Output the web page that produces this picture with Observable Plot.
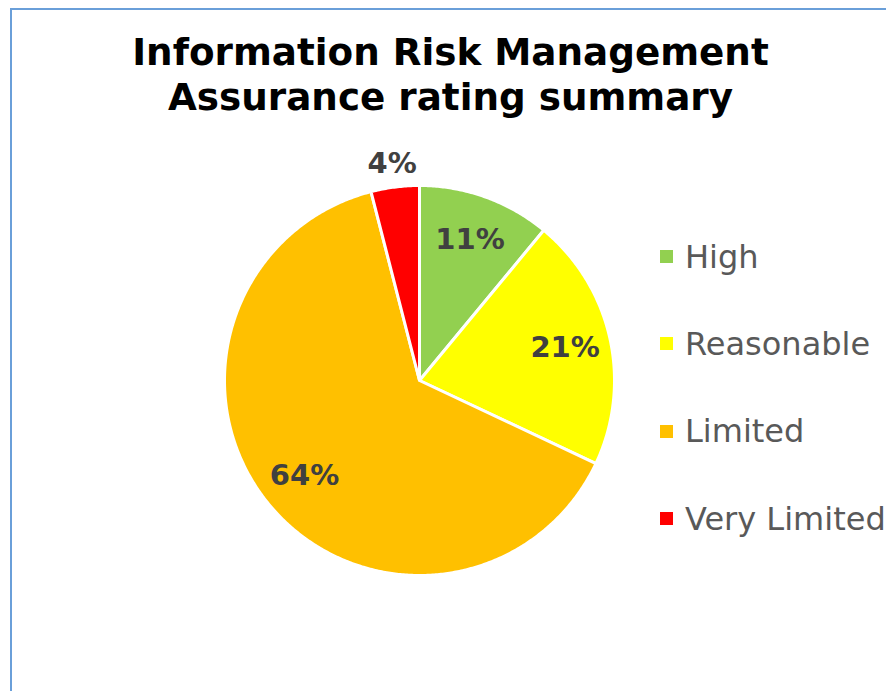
<!DOCTYPE html>
<html>
<head>
<meta charset="utf-8">
<script src="https://cdn.jsdelivr.net/npm/d3@7"></script>
<script src="https://cdn.jsdelivr.net/npm/@observablehq/plot@0.6"></script>
<style>
  html, body { margin: 0; padding: 0; background: #ffffff; overflow: hidden; }
  body { width: 886px; height: 691px; position: relative; font-family: "DejaVu Sans", Verdana, sans-serif; }
  #chart { position: absolute; left: 0; top: 0; }
  #title {
    position: absolute; left: 0; top: 30px; width: 901px; text-align: center;
    font-family: "DejaVu Sans", Verdana, sans-serif; font-weight: bold;
    font-size: 37.3px; line-height: 45px; color: #000000;
  }
  #legend { position: absolute; left: 660px; top: 213px; }
  .item { display: flex; align-items: center; height: 87.3px; white-space: nowrap; }
  .sw { width: 13px; height: 13px; margin-right: 12px; flex: none; }
  .lab { font-family: "DejaVu Sans", Verdana, sans-serif; font-size: 32px; line-height: 32px; color: #595959; }
  #frame {
    position: absolute; left: 10px; top: 8px; width: 2000px; height: 2000px;
    border-left: 2px solid #6A9FD9; border-top: 2px solid #6A9FD9; pointer-events: none;
  }
</style>
</head>
<body>
<div id="chart"></div>
<div id="title">Information Risk Management<br>Assurance rating summary</div>
<div id="legend"></div>
<div id="frame"></div>
<script>
// ---- data ----
const categories = ["High", "Reasonable", "Limited", "Very Limited"];
const values = [11, 21, 64, 4];
const colors = ["#92D050", "#FFFF00", "#FFC000", "#FF0000"];

// ---- build pie geometry from the data ----
const rows = categories.map((c, i) => ({category: c, value: values[i]}));
const arcs = d3.pie().sort(null).value(d => d.value)(rows);

const slicePoints = [];
for (const a of arcs) {
  const cat = a.data.category;
  slicePoints.push({category: cat, x: 0, y: 0});
  const n = Math.max(2, Math.ceil((a.endAngle - a.startAngle) / (Math.PI / 360)));
  for (let k = 0; k <= n; k++) {
    const t = a.startAngle + (a.endAngle - a.startAngle) * k / n;
    slicePoints.push({category: cat, x: Math.sin(t), y: Math.cos(t)});
  }
}

const labels = arcs.map(a => {
  const mid = (a.startAngle + a.endAngle) / 2;
  const rr = a.data.value < 5 ? 1.12 : 0.765;
  return {category: a.data.category, text: a.data.value + "%", x: rr * Math.sin(mid), y: rr * Math.cos(mid)};
});

// ---- layout (pixels) ----
const W = 886, H = 691, R = 195, CX = 419, CY = 380;

const chart = Plot.plot({
  width: W,
  height: H,
  margin: 0,
  style: {background: "transparent"},
  x: {domain: [-CX / R, (W - CX) / R], axis: null},
  y: {domain: [-(H - CY) / R, CY / R], axis: null},
  color: {domain: categories, range: colors},
  marks: [
    Plot.line(slicePoints, {
      x: "x", y: "y", z: "category", fill: "category",
      stroke: "white", strokeWidth: 3, curve: "linear-closed", strokeLinejoin: "round"
    }),
    Plot.text(labels, {
      x: "x", y: "y", text: "text",
      fill: "#404040", fontSize: 29, fontWeight: "bold",
      fontFamily: "DejaVu Sans, Verdana, sans-serif"
    })
  ]
});
document.getElementById("chart").appendChild(chart);

// ---- legend ----
const legend = document.getElementById("legend");
categories.forEach((c, i) => {
  const item = document.createElement("div");
  item.className = "item";
  const sw = document.createElement("span");
  sw.className = "sw";
  sw.style.background = colors[i];
  const lab = document.createElement("span");
  lab.className = "lab";
  lab.textContent = c;
  item.appendChild(sw);
  item.appendChild(lab);
  legend.appendChild(item);
});
</script>
</body>
</html>
